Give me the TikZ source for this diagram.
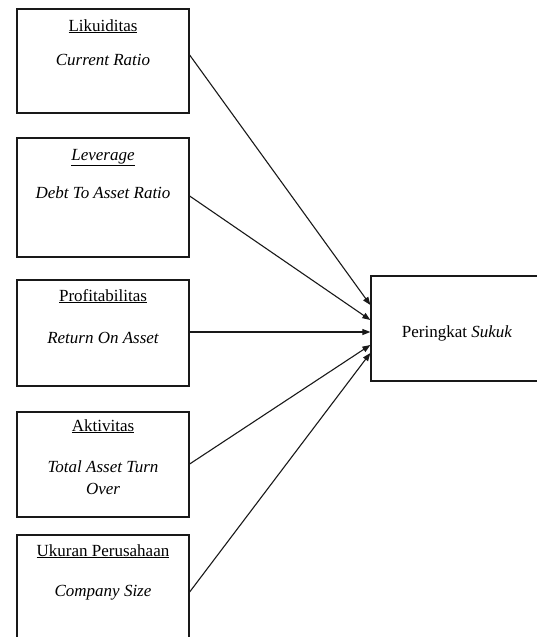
\documentclass[tikz,border=0pt]{standalone}
\usepackage{fontspec}
\setmainfont{Liberation Serif}
\usetikzlibrary{calc,arrows.meta}
\begin{document}
\begin{tikzpicture}[x=1pt,y=-1pt,
  box/.style={draw=black!90,line width=1.3pt,minimum width=172pt,inner sep=0pt},
  lbl/.style={anchor=base,inner sep=0pt,font=\fontsize{17}{22}\selectfont,align=center},
  arr/.style={draw=black!90,line width=1.1pt,-{Triangle[length=8pt,width=6pt]}}]
\useasboundingbox (0,0) rectangle (537,637);
% boxes
\node[box,minimum height=104pt] (b1) at (103,61) {};
\node[box,minimum height=119pt] (b2) at (103,197.5) {};
\node[box,minimum height=106pt] (b3) at (103,333) {};
\node[box,minimum height=105pt] (b4) at (103,464.5) {};
\node[box,minimum height=114pt] (b5) at (103,592) {};
\node[box,minimum height=105pt] (pk) at (457,328.5) {};
% texts
\node[lbl] (t1) at (103,31) {\underline{Likuiditas}};
\node[lbl] (s1) at (103,65) {\itshape Current Ratio};
\node[lbl] (t2) at (103,160) {\underline{\itshape Leverage}};
\node[lbl] (s2) at (103,198) {\itshape Debt To Asset Ratio};
\node[lbl] (t3) at (103,301) {\underline{Profitabilitas}};
\node[lbl] (s3) at (103,343) {\itshape Return On Asset};
\node[lbl] (t4) at (103,431) {\underline{Aktivitas}};
\node[lbl] (s4) at (103,494) {\itshape Total Asset Turn\\\itshape Over};
\node[lbl] (t5) at (103,556) {\underline{Ukuran Perusahaan}};
\node[lbl] (s5) at (103,596) {\itshape Company Size};
\node[lbl] (pt) at (457,337) {Peringkat \textit{Sukuk}};
% connectors
\draw[arr] ($(b1.east)+(0,-6)$) -- ($(pk.west)+(0,-23.5)$);
\draw[arr] ($(b2.east)+(0,-1.5)$) -- ($(pk.west)+(0,-8.5)$);
\draw[arr] ($(b3.east)+(0,-1)$) -- ($(pk.west)+(0,3.5)$);
\draw[arr] ($(b4.east)+(0,-0.5)$) -- ($(pk.west)+(0,16.5)$);
\draw[arr] (b5.east) -- ($(pk.west)+(0,24.5)$);
\end{tikzpicture}
\end{document}
